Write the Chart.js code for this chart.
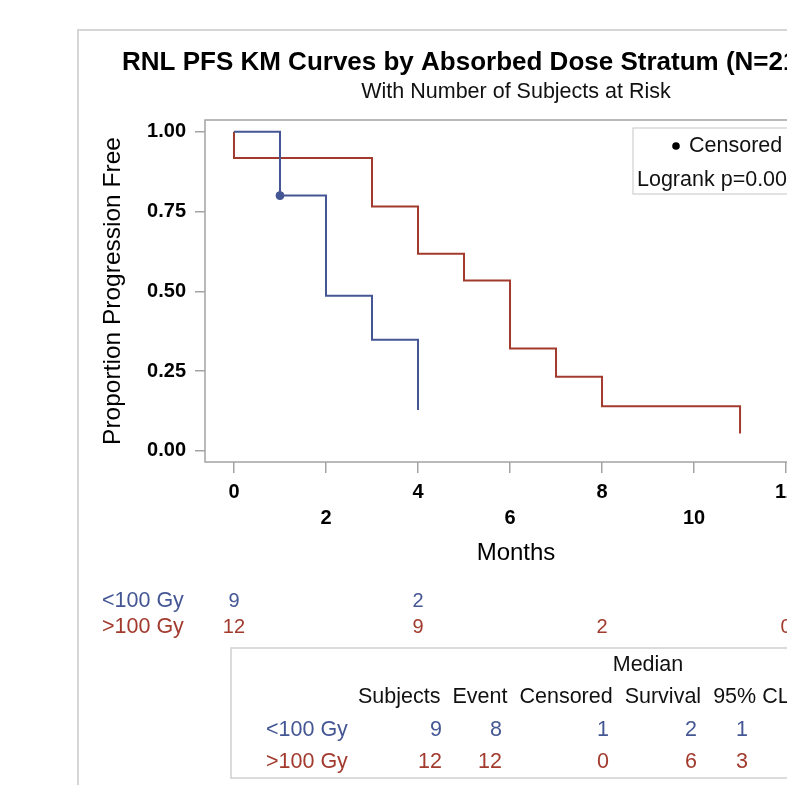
<!DOCTYPE html>
<html>
<head>
<meta charset="utf-8">
<script src="https://cdn.jsdelivr.net/npm/chart.js@4.4.1/dist/chart.umd.min.js"></script>
<style>
  html, body { margin: 0; padding: 0; background: #fff; overflow: hidden; }
  #wrap { width: 1040px; height: 785px; }
</style>
</head>
<body>
<div id="wrap"><canvas id="km" width="1040" height="785"></canvas></div>
<script>
// KM step points (months, proportion progression free)
const lowTimes = [0, 1, 2, 3, 4];
const lowSurv = [1.0, 0.80, 0.486, 0.348, 0.128];
const highTimes = [0, 0, 3, 4, 5, 6, 7, 8, 11];
const highSurv = [1.0, 0.918, 0.766, 0.618, 0.534, 0.321, 0.232, 0.140, 0.054];
const censorTimes = [1];
const censorSurv = [0.80];

const xTicks = [0, 2, 4, 6, 8, 10, 12];
const yTicks = [0, 0.25, 0.5, 0.75, 1];

const groups = ['<100 Gy', '>100 Gy'];
const riskTimes = [0, 4, 8, 12];
const riskLow = [9, 2, null, null];
const riskHigh = [12, 9, 2, 0];

const statHeaders = ['Subjects', 'Event', 'Censored', 'Survival', '95% CL'];
const statLow = [9, 8, 1, 2, 1];
const statHigh = [12, 12, 0, 6, 3];

const BLUE = '#445694';
const RED = '#A23A2E';
const FRAME = '#a3a3a3';
const FONT = '"Liberation Sans", Arial, sans-serif';

const toPts = (xs, ys) => xs.map((x, i) => ({ x: x, y: ys[i] }));

function txt(ctx, s, x, y, font, color, align, base) {
    ctx.font = font;
    ctx.fillStyle = color;
    ctx.textAlign = align || 'left';
    ctx.textBaseline = base || 'middle';
    ctx.fillText(s, x, y);
}

const decor = {
    id: 'decor',
    beforeDraw(chart) {
        const ctx = chart.ctx;
        ctx.save();
        ctx.strokeStyle = '#d6d6d6';
        ctx.lineWidth = 2;
        ctx.strokeRect(78, 30, 1200, 900);
        ctx.restore();
    },
    beforeDatasetsDraw(chart) {
        const ctx = chart.ctx;
        const a = chart.chartArea;
        ctx.save();
        ctx.strokeStyle = FRAME;
        ctx.lineWidth = 1.5;
        ctx.strokeRect(a.left, a.top, a.right - a.left, a.bottom - a.top);

        // inset legend box
        ctx.strokeStyle = '#cfcfcf';
        ctx.lineWidth = 1.2;
        ctx.strokeRect(633, 128, 180, 66);
        ctx.fillStyle = '#000';
        ctx.beginPath();
        ctx.arc(676, 146, 3.8, 0, Math.PI * 2);
        ctx.fill();
        txt(ctx, 'Censored', 689, 146, '21.5px ' + FONT, '#111');
        txt(ctx, 'Logrank p=0.00', 637, 180, '21.5px ' + FONT, '#111');
        ctx.restore();
    },
    afterDraw(chart) {
        const ctx = chart.ctx;
        const a = chart.chartArea;
        const xs = chart.scales.x;
        const cx = (a.left + a.right) / 2;
        ctx.save();
        txt(ctx, 'RNL PFS KM Curves by Absorbed Dose Stratum (N=21)', 122, 70, 'bold 26px ' + FONT, '#000', 'left', 'alphabetic');
        txt(ctx, 'With Number of Subjects at Risk', cx, 92, '21.5px ' + FONT, '#111', 'center');
        txt(ctx, 'Months', cx, 553, '24px ' + FONT, '#000', 'center');

        ctx.save();
        ctx.translate(113, (a.top + a.bottom) / 2);
        ctx.rotate(-Math.PI / 2);
        txt(ctx, 'Proportion Progression Free', 0, 0, '24.5px ' + FONT, '#000', 'center');
        ctx.restore();

        // number at risk
        const rows = [[riskLow, BLUE, 601], [riskHigh, RED, 627]];
        rows.forEach((r, i) => {
            txt(ctx, groups[i], 102, r[2], '21.5px ' + FONT, r[1]);
            r[0].forEach((v, j) => {
                if (v === null) return;
                txt(ctx, String(v), xs.getPixelForValue(riskTimes[j]), r[2], '20px ' + FONT, r[1], 'center');
            });
        });

        // summary table
        ctx.strokeStyle = '#d0d0d0';
        ctx.lineWidth = 1.5;
        ctx.strokeRect(231, 648, 700, 130);
        txt(ctx, 'Median', 648, 665, '21.5px ' + FONT, '#111', 'center');
        let hx = 358;
        statHeaders.forEach(h => {
            txt(ctx, h, hx, 697, '21.5px ' + FONT, '#111', 'left');
            hx += ctx.measureText(h).width + 12;
        });
        const colRight = [442, 502, 609, 697, 748];
        [[statLow, BLUE, 730], [statHigh, RED, 762]].forEach((r, i) => {
            txt(ctx, groups[i], 266, r[2], '21.5px ' + FONT, r[1]);
            r[0].forEach((v, j) => {
                txt(ctx, String(v), colRight[j], r[2], '21.5px ' + FONT, r[1], 'right');
            });
        });
        ctx.restore();
    }
};

const ctx = document.getElementById('km').getContext('2d');
new Chart(ctx, {
    type: 'line',
    data: {
        datasets: [
            {
                label: '<100 Gy',
                data: toPts(lowTimes, lowSurv),
                borderColor: BLUE,
                borderWidth: 2,
                stepped: 'before',
                pointRadius: 0,
                fill: false
            },
            {
                label: '>100 Gy',
                data: toPts(highTimes, highSurv),
                borderColor: RED,
                borderWidth: 2,
                stepped: 'before',
                pointRadius: 0,
                fill: false
            },
            {
                label: 'Censored',
                data: toPts(censorTimes, censorSurv),
                showLine: false,
                pointRadius: 4,
                pointBackgroundColor: BLUE,
                pointBorderColor: BLUE
            }
        ]
    },
    options: {
        responsive: false,
        animation: false,
        devicePixelRatio: 1,
        layout: { padding: { left: 0, top: 120, right: 213, bottom: 0 } },
        plugins: {
            legend: { display: false },
            tooltip: { enabled: false },
            title: { display: false }
        },
        scales: {
            x: {
                type: 'linear',
                min: -0.63,
                max: 12.89,
                afterFit: s => { s.height = 323; },
                afterBuildTicks: s => { s.ticks = xTicks.map(v => ({ value: v })); },
                border: { display: false },
                grid: { drawOnChartArea: false, color: FRAME, lineWidth: 1.5, tickLength: 11 },
                ticks: {
                    autoSkip: false,
                    maxRotation: 0,
                    padding: 6,
                    color: '#000',
                    font: { size: 20, weight: 'bold', family: FONT, lineHeight: 1.3 },
                    callback: (v, i) => i % 2 === 0 ? [String(v), ''] : ['', String(v)]
                }
            },
            y: {
                min: -0.035,
                max: 1.037,
                afterFit: s => { s.width = 205; },
                afterBuildTicks: s => { s.ticks = yTicks.map(v => ({ value: v })); },
                border: { display: false },
                grid: { drawOnChartArea: false, color: FRAME, lineWidth: 1.5, tickLength: 10 },
                ticks: {
                    padding: 9,
                    color: '#000',
                    font: { size: 20, weight: 'bold', family: FONT },
                    callback: v => v.toFixed(2)
                }
            }
        }
    },
    plugins: [decor]
});
</script>
</body>
</html>
